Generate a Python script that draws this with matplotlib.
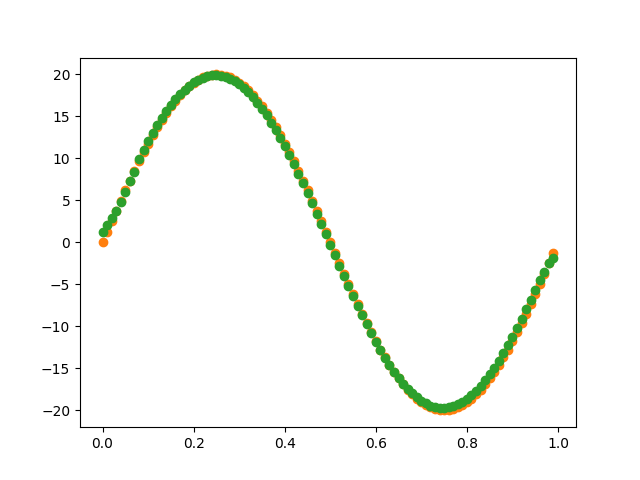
import matplotlib
matplotlib.use('Agg')
import matplotlib.pyplot as plt

x = [0.00, 0.01, 0.02, 0.03, 0.04, 0.05, 0.06, 0.07, 0.08, 0.09,
     0.10, 0.11, 0.12, 0.13, 0.14, 0.15, 0.16, 0.17, 0.18, 0.19,
     0.20, 0.21, 0.22, 0.23, 0.24, 0.25, 0.26, 0.27, 0.28, 0.29,
     0.30, 0.31, 0.32, 0.33, 0.34, 0.35, 0.36, 0.37, 0.38, 0.39,
     0.40, 0.41, 0.42, 0.43, 0.44, 0.45, 0.46, 0.47, 0.48, 0.49,
     0.50, 0.51, 0.52, 0.53, 0.54, 0.55, 0.56, 0.57, 0.58, 0.59,
     0.60, 0.61, 0.62, 0.63, 0.64, 0.65, 0.66, 0.67, 0.68, 0.69,
     0.70, 0.71, 0.72, 0.73, 0.74, 0.75, 0.76, 0.77, 0.78, 0.79,
     0.80, 0.81, 0.82, 0.83, 0.84, 0.85, 0.86, 0.87, 0.88, 0.89,
     0.90, 0.91, 0.92, 0.93, 0.94, 0.95, 0.96, 0.97, 0.98, 0.99]

# measured data (orange)
y_data = [0.00, 1.26, 2.51, 3.75, 4.97, 6.18, 7.36, 8.52, 9.64, 10.72,
          11.76, 12.75, 13.69, 14.58, 15.41, 16.18, 16.89, 17.53, 18.10, 18.60,
          19.02, 19.37, 19.65, 19.84, 19.96, 20.00, 19.96, 19.84, 19.65, 19.37,
          19.02, 18.60, 18.10, 17.53, 16.89, 16.18, 15.41, 14.58, 13.69, 12.75,
          11.76, 10.72, 9.64, 8.52, 7.36, 6.18, 4.97, 3.75, 2.51, 1.26,
          0.00, -1.26, -2.51, -3.75, -4.97, -6.18, -7.36, -8.52, -9.64, -10.72,
          -11.76, -12.75, -13.69, -14.58, -15.41, -16.18, -16.89, -17.53, -18.10, -18.60,
          -19.02, -19.37, -19.65, -19.84, -19.96, -20.00, -19.96, -19.84, -19.65, -19.37,
          -19.02, -18.60, -18.10, -17.53, -16.89, -16.18, -15.41, -14.58, -13.69, -12.75,
          -11.76, -10.72, -9.64, -8.52, -7.36, -6.18, -4.97, -3.75, -2.51, -1.26]

# fitted values (green)
y_fit = [1.20, 2.10, 2.90, 3.70, 4.80, 6.00, 7.30, 8.40, 9.97, 11.03,
         12.04, 13.01, 13.93, 14.79, 15.60, 16.34, 17.02, 17.63, 18.17, 18.65,
         19.04, 19.37, 19.62, 19.79, 19.88, 19.90, 19.83, 19.69, 19.47, 19.18,
         18.81, 18.37, 17.85, 17.26, 16.61, 15.89, 15.11, 14.27, 13.37, 12.43,
         11.43, 10.39, 9.30, 8.18, 7.03, 5.86, 4.65, 3.44, 2.20, 0.96,
         -0.28, -1.52, -2.76, -3.98, -5.19, -6.38, -7.54, -8.67, -9.77, -10.83,
         -11.84, -12.81, -13.73, -14.59, -15.40, -16.14, -16.82, -17.43, -17.97, -18.45,
         -18.84, -19.17, -19.42, -19.59, -19.68, -19.70, -19.63, -19.49, -19.27, -18.98,
         -18.61, -18.17, -17.65, -17.06, -16.41, -15.69, -14.91, -14.07, -13.17, -12.23,
         -11.23, -10.19, -9.10, -7.98, -6.83, -5.66, -4.45, -3.50, -2.45, -1.80]

fig, ax = plt.subplots(figsize=(6.4, 4.8), dpi=100)
ax.scatter(x, y_data, color='C1')
ax.scatter(x, y_fit, color='C2')
fig.savefig('out.png')
